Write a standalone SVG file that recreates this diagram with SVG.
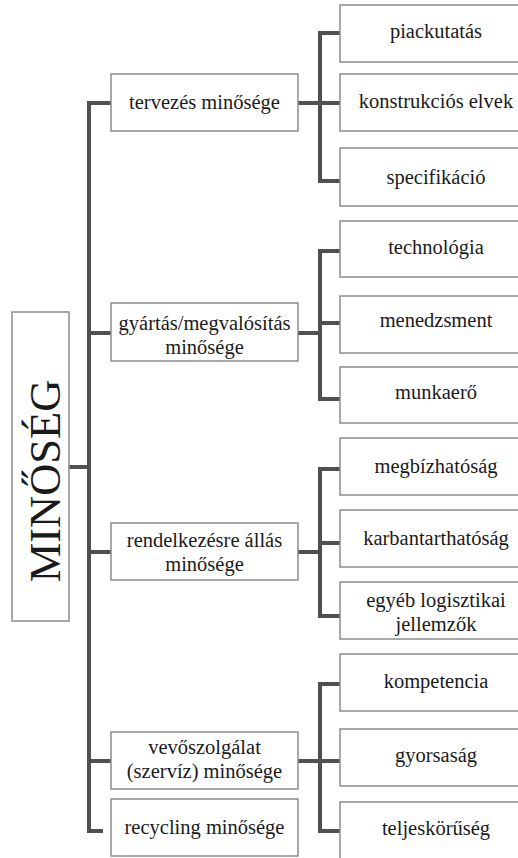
<svg xmlns="http://www.w3.org/2000/svg" width="518" height="858" viewBox="0 0 518 858">
<style>
.box{fill:#fff;stroke:#8c8c8c;stroke-width:1.5}
text{font-family:'Liberation Serif',serif;fill:#1a1a1a;text-anchor:middle}
.t{font-size:20.5px}
.big{font-size:44.5px}
.c{fill:none;stroke:#505050;stroke-width:4;stroke-linejoin:miter}
</style>
<rect width="518" height="858" fill="#fff"/>
<g id="connectors">
<path class="c" d="M111,103 H89 V831 H103"/>
<path class="c" d="M69,467 H89"/>
<path class="c" d="M89,333 H111"/>
<path class="c" d="M89,552 H111"/>
<path class="c" d="M89,761 H111"/>
<path class="c" d="M298,103 H340"/>
<path class="c" d="M340,33 H320 V181 H340"/>
<path class="c" d="M298,333 H320"/>
<path class="c" d="M340,251 H320 V399 H340"/>
<path class="c" d="M320,323 H340"/>
<path class="c" d="M298,552 H320"/>
<path class="c" d="M340,469 H320 V616 H340"/>
<path class="c" d="M320,543 H340"/>
<path class="c" d="M298,761 H340"/>
<path class="c" d="M340,684 H320 V831 H340"/>
</g>
<g id="root"><rect class="box" x="12" y="312" width="57" height="309"/><text class="big" font-family="Liberation Serif, serif" transform="translate(60,481) rotate(-90)">MINŐSÉG</text></g>
<g font-family="Liberation Serif, serif">
<g id="tervezes"><rect class="box" x="111" y="74" width="187" height="57"/><text class="t" x="204.5" y="109">tervezés minősége</text></g>
<g id="gyartas"><rect class="box" x="111" y="303" width="187" height="58"/><text class="t" x="204.5" y="330">gyártás/megvalósítás</text><text class="t" x="204.5" y="354">minősége</text></g>
<g id="rendelkezes"><rect class="box" x="111" y="523" width="187" height="57"/><text class="t" x="204.5" y="547">rendelkezésre állás</text><text class="t" x="204.5" y="571">minősége</text></g>
<g id="vevoszolgalat"><rect class="box" x="111" y="732" width="187" height="57"/><text class="t" x="204.5" y="754">vevőszolgálat</text><text class="t" x="204.5" y="778">(szervíz) minősége</text></g>
<g id="recycling"><rect class="box" x="111" y="799" width="187" height="57"/><text class="t" x="204.5" y="834">recycling minősége</text></g>
<g id="piackutatas"><rect class="box" x="340" y="5" width="200" height="57"/><text class="t" x="436" y="38">piackutatás</text></g>
<g id="konstrukcios"><rect class="box" x="340" y="74" width="200" height="57"/><text class="t" x="436" y="108">konstrukciós elvek</text></g>
<g id="specifikacio"><rect class="box" x="340" y="148" width="200" height="58"/><text class="t" x="436" y="184">specifikáció</text></g>
<g id="technologia"><rect class="box" x="340" y="221" width="200" height="56"/><text class="t" x="436" y="254">technológia</text></g>
<g id="menedzsment"><rect class="box" x="340" y="296" width="200" height="57"/><text class="t" x="436" y="327">menedzsment</text></g>
<g id="munkaero"><rect class="box" x="340" y="367" width="200" height="56"/><text class="t" x="436" y="399">munkaerő</text></g>
<g id="megbizhatosag"><rect class="box" x="340" y="438" width="200" height="57"/><text class="t" x="436" y="473">megbízhatóság</text></g>
<g id="karbantarthatosag"><rect class="box" x="340" y="510" width="200" height="57"/><text class="t" x="436" y="545">karbantarthatóság</text></g>
<g id="egyeb"><rect class="box" x="340" y="582" width="200" height="57"/><text class="t" x="436" y="607">egyéb logisztikai</text><text class="t" x="436" y="631">jellemzők</text></g>
<g id="kompetencia"><rect class="box" x="340" y="654" width="200" height="57"/><text class="t" x="436" y="688">kompetencia</text></g>
<g id="gyorsasag"><rect class="box" x="340" y="729" width="200" height="57"/><text class="t" x="436" y="762">gyorsaság</text></g>
<g id="teljeskoruseg"><rect class="box" x="340" y="802" width="200" height="60"/><text class="t" x="436" y="835">teljeskörűség</text></g>
</g>
</svg>
